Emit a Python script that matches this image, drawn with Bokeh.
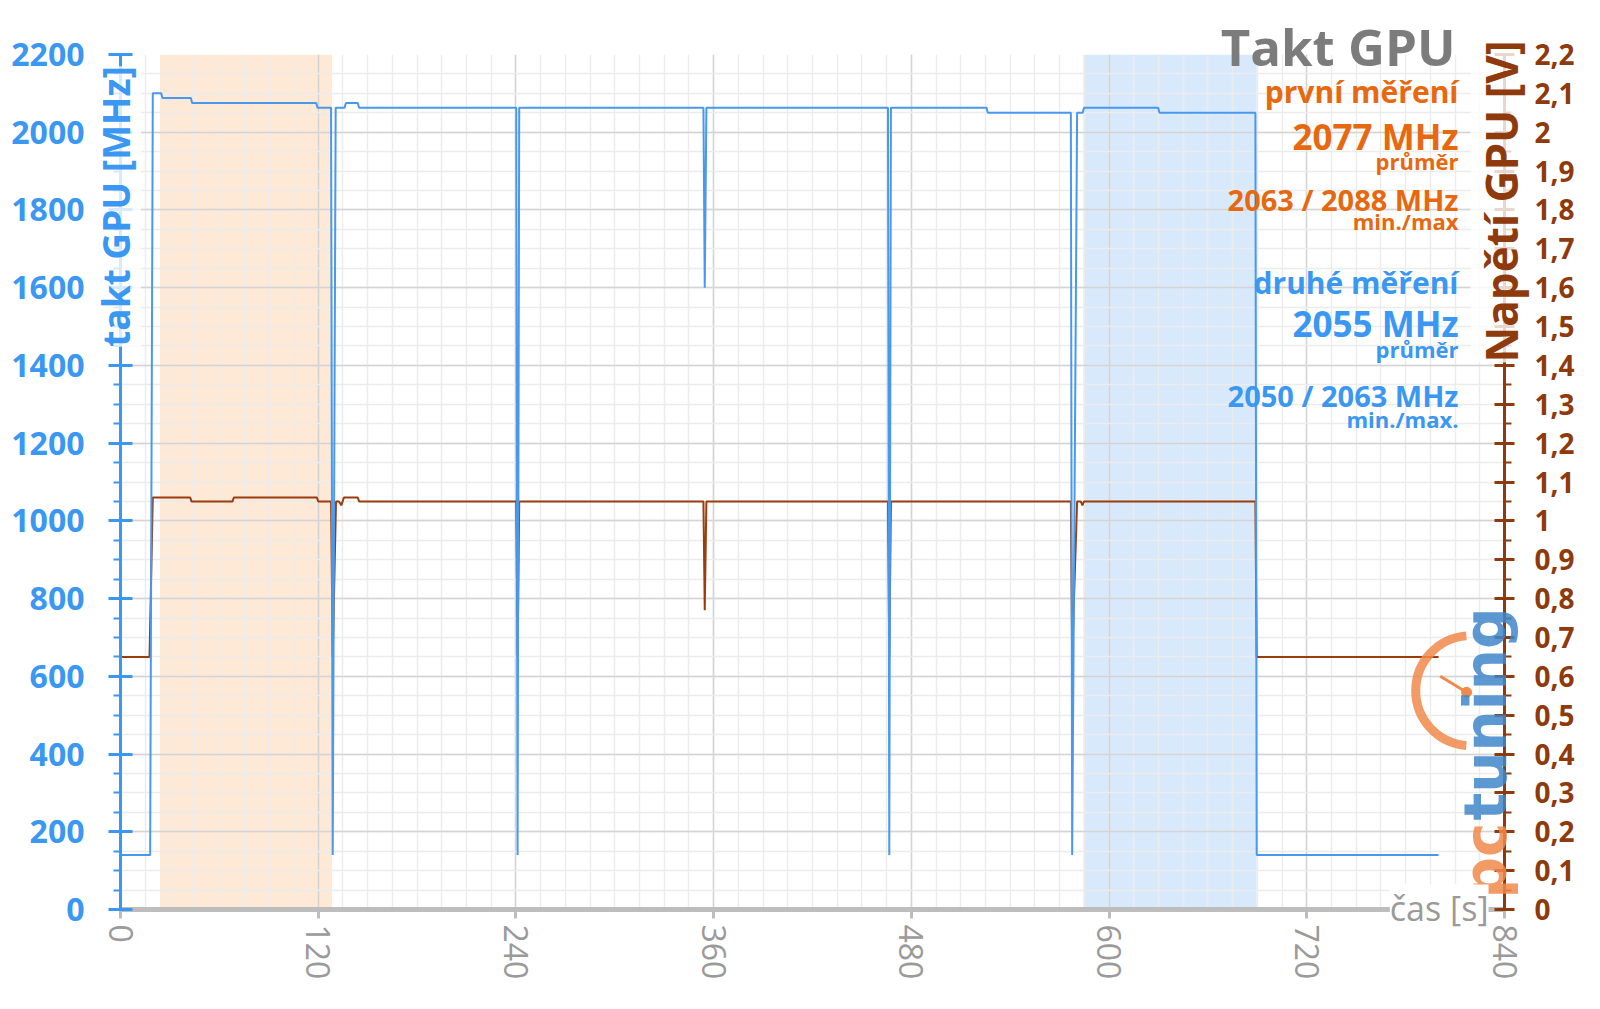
from math import pi
from bokeh.plotting import figure
from bokeh.models import (Range1d, LinearAxis, FixedTicker, BoxAnnotation, Label,
                          CustomJSTickFormatter)
from bokeh.embed import file_html
from bokeh.resources import INLINE

# ---------------- data ----------------
clock_time = [0, 18.0, 19.6, 24.7, 25.5, 42.7, 43.5, 118.8, 119.6, 127.8, 128.8, 130.6,
              136.0, 136.8, 144.0, 144.8, 240.2, 241.0, 242.0, 353.8, 354.6, 355.6,
              465.8, 466.6, 467.6, 525.6, 526.4, 576.8, 577.6, 580.6, 584.0, 584.8,
              629.8, 630.6, 688.8, 689.6, 800.0]
clock_mhz = [140, 140, 2100, 2100, 2088, 2088, 2075, 2075, 2063, 2063, 140, 2063,
             2063, 2075, 2075, 2063, 2063, 140, 2063, 2063, 1600, 2063,
             2063, 140, 2063, 2063, 2050, 2050, 140, 2050, 2050, 2063,
             2063, 2050, 2050, 140, 140]

volt_time = [0, 17.6, 19.6, 42.3, 43.1, 68.0, 68.8, 119.2, 120.0, 127.8, 128.8, 130.8,
             132.6, 134.0, 135.6, 144.0, 144.8, 240.2, 241.0, 242.0, 353.8, 354.6,
             355.6, 465.8, 466.6, 467.6, 576.8, 577.6, 580.6, 582.8, 583.8, 584.8,
             688.8, 689.6, 800.0]
volt_v = [0.65, 0.65, 1.06, 1.06, 1.05, 1.05, 1.06, 1.06, 1.05, 1.05, 0.65, 1.05,
          1.05, 1.04, 1.06, 1.06, 1.05, 1.05, 0.65, 1.05, 1.05, 0.77,
          1.05, 1.05, 0.65, 1.05, 1.05, 0.65, 1.05, 1.05, 1.04, 1.05,
          1.05, 0.65, 0.65]

first_window = [24.0, 128.3]
second_window = [584.4, 689.6]

x_ticks = [0, 120, 240, 360, 480, 600, 720, 840]
y_ticks = list(range(0, 2201, 200))
v_ticks = [i / 10 for i in range(23)]

title_text = "Takt GPU"
first_lines = ["první měření", "2077 MHz", "průměr", "2063 / 2088 MHz", "min./max"]
second_lines = ["druhé měření", "2055 MHz", "průměr", "2050 / 2063 MHz", "min./max."]

# ---------------- styling ----------------
BLUE = "#3a97f2"
BLUE_LINE = "#4898ee"
BROWN = "#8e3a0c"
BROWN_LINE = "#9a3c0d"
ORANGE = "#e8680f"
GRAY = "#9a9a9a"
LOGO_OR = "#f08a4b"
LOGO_BL = "#3f86c9"
FONT = "Open Sans"
W, H = 1600, 1009

p = figure(width=W, height=H, output_backend="svg", toolbar_location=None,
           x_range=Range1d(0, 840), y_range=Range1d(0, 2200),
           min_border_left=120, min_border_right=96, min_border_top=54,
           min_border_bottom=100, outline_line_color=None,
           background_fill_color="white", border_fill_color="white")
p.extra_y_ranges = {"volt": Range1d(0, 2.2)}

# shaded measurement windows (under the grid)
p.add_layout(BoxAnnotation(left=first_window[0], right=first_window[1],
                           fill_color="#fde9d6", fill_alpha=1.0, line_color=None,
                           level="image"))
p.add_layout(BoxAnnotation(left=second_window[0], right=second_window[1],
                           fill_color="#d9e9fc", fill_alpha=1.0, line_color=None,
                           level="image"))

# axes
xa = p.xaxis[0]
xa.ticker = FixedTicker(ticks=x_ticks, minor_ticks=list(range(0, 841, 15)))
xa.axis_line_color = "#bdbdbd"
xa.axis_line_width = 5
xa.major_tick_out = 9
xa.major_tick_in = 0
xa.major_tick_line_color = "#bdbdbd"
xa.major_tick_line_width = 3
xa.minor_tick_line_color = None
xa.major_label_orientation = "vertical"
xa.major_label_text_font = FONT
xa.major_label_text_font_size = "32px"
xa.major_label_text_color = GRAY
xa.major_label_standoff = 6

ya = p.yaxis[0]
ya.ticker = FixedTicker(ticks=y_ticks, minor_ticks=list(range(0, 2201, 50)))
ya.axis_line_color = BLUE
ya.axis_line_width = 3
ya.major_tick_in = 12
ya.major_tick_out = 12
ya.major_tick_line_color = BLUE
ya.major_tick_line_width = 3
ya.minor_tick_in = 0
ya.minor_tick_out = 7
ya.minor_tick_line_color = BLUE
ya.minor_tick_line_width = 2
ya.major_label_text_font = FONT
ya.major_label_text_font_style = "bold"
ya.major_label_text_font_size = "32px"
ya.major_label_text_color = BLUE
ya.major_label_standoff = 24

ra = LinearAxis(y_range_name="volt",
                ticker=FixedTicker(ticks=v_ticks, minor_ticks=[i / 20 for i in range(45)]),
                formatter=CustomJSTickFormatter(
                    code="return tick.toFixed(1).replace('.', ',').replace(/,0$/, '');"))
ra.axis_line_color = BROWN
ra.axis_line_width = 3
ra.major_tick_in = 10
ra.major_tick_out = 10
ra.major_tick_line_color = BROWN
ra.major_tick_line_width = 3
ra.minor_tick_in = 0
ra.minor_tick_out = 7
ra.minor_tick_line_color = BROWN
ra.minor_tick_line_width = 2
ra.major_label_text_font = FONT
ra.major_label_text_font_style = "bold"
ra.major_label_text_font_size = "28px"
ra.major_label_text_color = BROWN
ra.major_label_standoff = 20
p.add_layout(ra, "right")

# grid
p.xgrid.grid_line_color = "#d4d4d4"
p.xgrid.grid_line_width = 1.5
p.xgrid.minor_grid_line_color = "#ececec"
p.xgrid.minor_grid_line_width = 1.5
p.ygrid.grid_line_color = "#d4d4d4"
p.ygrid.grid_line_width = 1.5
p.ygrid.minor_grid_line_color = "#ececec"
p.ygrid.minor_grid_line_width = 1.5

# data lines
p.line(volt_time, volt_v, y_range_name="volt", line_color=BROWN_LINE, line_width=2)
p.line(clock_time, clock_mhz, line_color=BLUE_LINE, line_width=2)

# pctuning watermark (gauge part)
p.arc(x=[819.5], y=[563.0], radius=55, radius_units="screen",
      start_angle=pi / 2 + 0.08, end_angle=3 * pi / 2 - 0.08,
      line_color=LOGO_OR, line_width=9, line_alpha=0.85)
p.segment(x0=[817.0], y0=[559.0], x1=[801.0], y1=[600.0], line_color=LOGO_OR,
          line_width=3)
p.scatter(x=[817.0], y=[559.0], size=10, color=LOGO_OR)

# ---------------- transparent overlay (second root) for the free texts ----------------
ov = figure(width=W, height=H, output_backend="svg", toolbar_location=None,
            x_range=Range1d(0, W), y_range=Range1d(H, 0),
            x_axis_type=None, y_axis_type=None,
            min_border=0, min_border_left=0, min_border_right=0,
            min_border_top=0, min_border_bottom=0,
            outline_line_color=None, background_fill_alpha=0, border_fill_alpha=0,
            styles={"margin-top": f"-{H}px", "position": "relative", "z-index": "2"})


def txt(**kw):
    kw.setdefault("text_font", FONT)
    ov.add_layout(Label(**kw))


def line_text(text, right, base, size, color, bold=True):
    # labels are anchored at their middle; shift so the baseline lands on `base`
    txt(x=right, y=base - 0.388 * size, text=text, text_align="right",
        text_baseline="middle", text_font_style="bold" if bold else "normal",
        text_font_size=f"{size}px", text_color=color)


# watermark letters
LOGO_FONT = "DejaVu Sans"
txt(x=1485, y=898, text="pc", angle=pi / 2, text_align="left",
    text_baseline="middle", text_font=LOGO_FONT, text_font_style="bold",
    text_font_size="58px", text_color=LOGO_OR, text_alpha=0.85)
txt(x=1485, y=820, text="tuning", angle=pi / 2, text_align="left",
    text_baseline="middle", text_font=LOGO_FONT, text_font_style="bold",
    text_font_size="58px", text_color=LOGO_BL, text_alpha=0.85)

# axis titles
txt(x=115, y=206, text="takt GPU [MHz]", angle=pi / 2, text_align="center",
    text_baseline="middle", text_font_style="bold", text_font_size="37px",
    text_color=BLUE, background_fill_color="white", background_fill_alpha=0.8)
txt(x=1500, y=201, text="Napětí GPU [V]", angle=pi / 2, text_align="center",
    text_baseline="middle", text_font_style="bold", text_font_size="44px",
    text_color=BROWN, background_fill_color="white", background_fill_alpha=0.8)
txt(x=1488, y=907, text="čas [s]", text_align="right", text_baseline="middle",
    text_font_size="34px", text_color=GRAY, background_fill_color="white",
    background_fill_alpha=1.0)

# summary block
line_text(title_text, 1455, 65, 51, "#7c7c7c")
base1 = [103, 150, 169, 210, 229]
base2 = [294, 337, 357, 406, 427]
sizes = [30, 35, 22, 29, 22]
for t, b, s in zip(first_lines, base1, sizes):
    line_text(t, 1458, b, s, ORANGE)
for t, b, s in zip(second_lines, base2, sizes):
    line_text(t, 1458, b, s, BLUE)

open("out.html", "w").write(file_html([p, ov], INLINE))
